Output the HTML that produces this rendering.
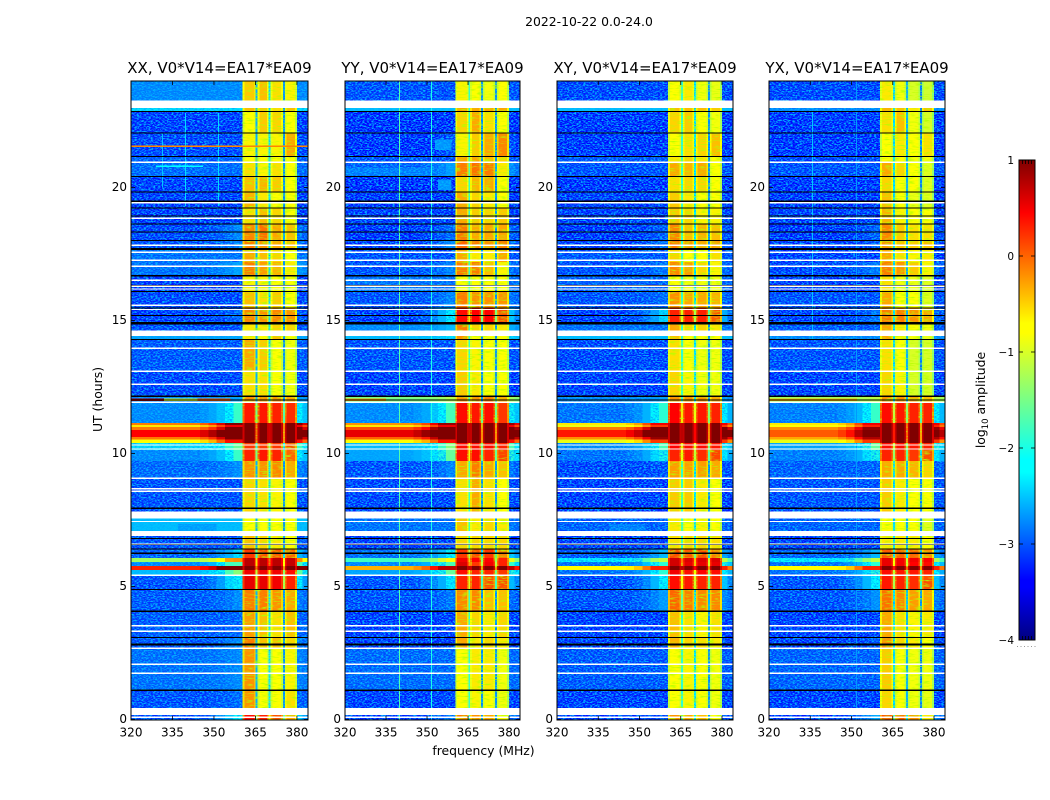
<!DOCTYPE html>
<html>
<head>
<meta charset="utf-8">
<title>Amplitude waterfall 2022-10-22</title>
<style>
  html,body{margin:0;padding:0;background:#fff;width:1050px;height:800px;overflow:hidden}
  svg{display:block}
  text{font-family:"DejaVu Sans","Liberation Sans",sans-serif;fill:#000}
  .tick{font-size:12px}
  .title{font-size:15px}
  .cbt{font-size:10.5px}
</style>
</head>
<body>
<svg id="chart" width="1050" height="800" viewBox="0 0 1050 800" xmlns="http://www.w3.org/2000/svg">
  <defs>
    <filter id="speckle" x="0" y="0" width="100%" height="100%" color-interpolation-filters="sRGB">
      <feTurbulence type="fractalNoise" baseFrequency="0.43 0.83" numOctaves="2" seed="7"/>
      <feColorMatrix type="matrix" values="0 0 0 0 0  0 0 0 0 0.7  0 0 0 0 1  4 0 0 0 -1.7"/>
    </filter>
    <filter id="streak" x="0" y="0" width="100%" height="100%" color-interpolation-filters="sRGB">
      <feTurbulence type="fractalNoise" baseFrequency="0.13 0.77" numOctaves="2" seed="3"/>
      <feColorMatrix type="matrix" values="0 0 0 0 0.7  0 0 0 0 1  0 0 0 0 0  3 0 0 0 -1.5"/>
    </filter>
    <linearGradient id="jet-gradient" x1="0" y1="1" x2="0" y2="0"></linearGradient>
  </defs>
  <text x="589" y="26" text-anchor="middle" font-size="12.400">2022-10-22 0.0-24.0</text>
  <text x="483.500" y="755" text-anchor="middle" font-size="12.400">frequency (MHz)</text>
  <text transform="translate(102,399.500) rotate(-90)" text-anchor="middle" font-size="12.400">UT (hours)</text>
  <text transform="translate(985,400) rotate(-90)" text-anchor="middle" font-size="12.400">log<tspan font-size="8.500" dy="3">10</tspan><tspan dy="-3"> amplitude</tspan></text>
  <g id="panels"></g>
  <g id="colorbar"></g>
</svg>
<script>
// ---- categories / axis ticks ----
const panelTitles = ['XX, V0*V14=EA17*EA09','YY, V0*V14=EA17*EA09','XY, V0*V14=EA17*EA09','YX, V0*V14=EA17*EA09'];
const freqTicks = [320,335,350,365,380];
const hourTicks = [0,5,10,15,20];
const colorbarTicks = [1,0,-1,-2,-3,-4];

// ---- frequency channel boundaries (MHz) ----
const channelEdges = [320,345,348,351,354,357,360.4,361,364.6,365.1,365.8,366.4,369.2,369.8,370.5,371.1,374.3,374.9,375.6,376.2,379.3,380,382,384];
// 0 = background, 1..4 = sub-band, -1..-3 = gap between sub-bands
const channelKind = [0,0,0,0,0,0,1,1,1,-1,2,2,2,-2,3,3,3,-3,4,4,4,0,0];
// background: leakage weight from the band; sub-band: roll-off in log10 amplitude
const channelGain = [0,.05,.12,.25,.45,.7,-.35,0,-.3,0,-.3,0,-.3,0,-.3,0,-.3,0,-.3,0,-.4,.5,.25];

// ---- time segment boundaries (UT hours, descending) ----
const segmentEdges = [24,23.26,22.86,22.04,21.17,20.95,20.41,19.82,19.23,18.63,18,17.65,17.2,16.67,16.07,15.47,14.87,14.42,14.27,13.06,12.16,11.94,11.15,11.07,11,10.88,10.62,10.53,10.39,10.13,9.72,9.08,7.58,6.9,6.41,6.07,5.92,5.77,5.62,5.43,4.87,4.08,3.1,2.69,1.11,.17,0];

// ---- log10 amplitude per segment: [background, band A, band B, band C, band D] ----
const levelsXX = [
[-2.6,-.45,-.4,-.55,-.65],[-2.3,-.4,-.45,-.55,-.4],[-3,-.7,-.45,-.5,-.75],[-2.95,-.65,-.65,-.65,-.3],
[-2.8,-.7,-.75,-.75,-.75],[-2.75,-.55,-.65,-.55,-.8],[-3,-.4,-.35,-.45,-.75],[-3,-.35,-.6,-.7,-.8],
[-3,-.55,-.4,-.5,-.75],[-2.95,-.15,-.05,-.3,-.4],[-2.9,-.1,-.2,-.3,-.4],[-2.7,-.3,-.4,-.5,-.7],
[-2.7,-.1,-.25,-.35,-.6],[-3,-.65,-.65,-.7,-.75],[-2.95,-.4,-.55,-.45,-.7],[-3,-.15,-.2,-.15,-.2],
[-2.9,-.6,-.6,-.5,-.5],[-2.5,-.6,-.8,-.4,-.7],[-2.85,-.3,-.45,-.8,-.85],[-2.95,-.55,-.55,-.8,-.85],
[-2.6,-.2,-.2,-.2,-.3],[-2.6,.35,.35,.3,.25],[-.1,1,1,1,1],[-.6,1,1,1,1],
[-.1,1,1,1,1],[.45,1,1,1,1],[-.1,1,1,1,1],[-.7,1,1,1,1],
[-2.3,.2,.2,.2,.1],[-2.6,.3,.35,.3,0],[-2.75,-.2,-.2,-.15,-.3],[-2.9,-.5,-.55,-.65,-.7],
[-2.4,-.7,-.75,-.7,-.8],[-2.9,-.4,-.5,-.6,-.75],[-2.8,.2,.1,.05,0],[-1.3,.75,.75,.75,.7],
[-2.6,.75,.75,.75,.7],[.3,1,1,1,1],[-2.4,.5,.5,.5,.4],[-2.9,.55,.55,.5,.3],
[-2.85,-.1,-.1,-.2,-.3],[-2.85,-.25,-.4,-.55,-.4],[-2.85,-.1,-.4,-.4,-.5],[-2.7,-.2,-.75,-.8,-.65],
[-2.9,-.2,-.75,-.75,-.55],[-2.9,.4,.3,.1,-.3]];
const levelsYY = [
[-2.9,-.65,-.7,-.85,-.8],[-2.4,-.3,-.3,-.3,-.3],[-3.1,-.5,-.3,-.55,-.8],[-3.1,-.65,-.45,-.3,-.15],
[-2.9,-.3,-.3,-.4,-.5],[-2.8,-.1,-.05,-.1,-.6],[-3.1,-.5,-.35,-.3,-.7],[-3.05,-.3,-.5,-.6,-.7],
[-3,-.3,-.45,-.5,-.45],[-3.05,-.1,-.3,-.3,-.3],[-3,0,-.1,-.2,-.1],[-2.9,-.3,-.6,-.6,-.3],
[-2.9,-.1,-.1,-.4,-.65],[-2.7,-.7,-.8,-.8,-.8],[-2.9,-.1,-.2,-.2,-.2],[-3,.4,.45,.45,.1],
[-2.6,-.1,-.5,-.5,-.6],[-2.4,-.2,-.7,-.7,-.7],[-2.9,-.5,-.65,-.8,-.8],[-3,-.45,-.6,-.8,-.8],
[-1.5,-.2,-.2,-.1,-.3],[-2.6,.4,.35,.4,.2],[-.2,1,1,1,1],[-.6,1,1,1,1],
[.1,1,1,1,1],[.55,1,1,1,1],[0,1,1,1,1],[-.7,1,1,1,1],
[-2.4,.4,.4,.4,.3],[-2.5,.4,.4,.3,.15],[-2.9,-.3,-.1,-.3,-.4],[-2.95,-.55,-.3,-.55,-.7],
[-2.7,-.4,-.6,-.5,-.6],[-3,-.5,-.5,-.5,-.5],[-2.7,.2,.1,.2,-.1],[-1.8,.5,.45,.45,.3],
[-2.6,.6,.2,.5,.3],[-.35,1,1,1,1],[-2.5,.4,.3,.3,.2],[-2.9,.3,.3,.1,.1],
[-2.9,-.15,-.15,-.4,-.4],[-3,-.3,-.5,-.6,-.5],[-3,-.3,-.6,-.5,-.6],[-2.75,-.7,-.6,-.6,-.85],
[-3,-.75,-.65,-.75,-.85],[-3,-.1,-.2,-.3,-.7]];
const levelsXY = [
[-2.95,-.75,-.6,-.85,-.9],[-2.4,-.4,-.4,-.4,-.45],[-3.05,-.5,-.45,-.7,-.85],[-3.05,-.7,-.55,-.5,-.4],
[-2.85,-.6,-.5,-.6,-.7],[-2.9,-.3,-.35,-.3,-.7],[-3.05,-.55,-.5,-.5,-.8],[-3,-.45,-.6,-.75,-.8],
[-3,-.45,-.5,-.65,-.65],[-3.05,-.15,-.4,-.35,-.4],[-3,-.1,-.2,-.3,-.25],[-2.85,-.5,-.7,-.7,-.55],
[-2.9,-.15,-.25,-.5,-.65],[-2.8,-.75,-.85,-.85,-.85],[-2.9,-.2,-.3,-.3,-.35],[-3,.3,.3,.3,.05],
[-2.7,-.3,-.5,-.5,-.6],[-2.4,-.4,-.7,-.7,-.75],[-2.95,-.55,-.7,-.85,-.85],[-3,-.5,-.65,-.85,-.85],
[-2.6,-.2,-.2,-.2,-.3],[-2.7,.45,.35,.35,.3],[-.6,1,1,1,1],[-.9,1,1,1,1],
[-.1,1,1,1,1],[.35,1,1,1,1],[-.2,1,1,1,1],[-.9,1,1,1,1],
[-2.6,.45,.4,.4,.35],[-2.7,.3,.35,.25,.15],[-2.95,-.25,-.25,-.25,-.3],[-3,-.45,-.45,-.6,-.7],
[-2.8,-.6,-.75,-.65,-.8],[-3,-.55,-.5,-.5,-.55],[-2.85,.1,.05,.1,-.1],[-2.2,.65,.6,.6,.6],
[-2.7,.65,.55,.55,.55],[-.8,1,1,1,1],[-2.7,.5,.4,.45,.4],[-2.95,.4,.35,.3,.3],
[-2.9,0,-.1,-.15,-.15],[-3,-.4,-.55,-.65,-.55],[-3,-.35,-.5,-.55,-.6],[-2.85,-.7,-.65,-.7,-.85],
[-3,-.75,-.65,-.75,-.85],[-3,-.2,-.3,-.4,-.75]];
const levelsYX = [
[-2.95,-.6,-.85,-1,-1.05],[-2.6,-.35,-.4,-.6,-.4],[-3.05,-.55,-.4,-.85,-1],[-3.05,-.8,-.6,-.7,-.55],
[-2.95,-.7,-.75,-.85,-.85],[-2.9,-.3,-.5,-.75,-.95],[-3.05,-.5,-.7,-.8,-.95],[-3.05,-.4,-.75,-.9,-.95],
[-3,-.35,-.65,-.7,-.75],[-3.05,-.15,-.45,-.55,-.55],[-3,-.2,-.4,-.45,-.4],[-3,-.3,-.55,-.65,-.6],
[-2.95,-.1,-.2,-.45,-.65],[-3,-.55,-.85,-.9,-.95],[-2.9,-.3,-.7,-.8,-.95],[-3,-.1,-.1,-.2,-.3],
[-2.85,-.3,-.6,-.75,-.85],[-2.6,-.3,-.65,-.85,-.9],[-2.9,-.55,-.75,-1,-1],[-3,-.5,-.65,-1,-1],
[-1.3,-.2,-.2,-.3,-.4],[-2.65,.4,.35,.3,.3],[-.6,1,1,1,1],[-.8,1,1,1,1],
[-.2,1,1,1,1],[.05,1,1,1,1],[-.3,1,1,1,1],[-.9,1,1,1,1],
[-2.5,.4,.4,.35,.3],[-2.65,.3,.3,.2,.1],[-2.8,-.3,-.3,-.35,-.5],[-2.9,-.45,-.6,-.7,-.8],
[-2.8,-.7,-.8,-.8,-.95],[-3,-.6,-.6,-.6,-.7],[-2.8,.05,0,0,-.2],[-2.2,.55,.5,.5,.45],
[-2.7,.55,.5,.45,.4],[-.8,1,1,1,1],[-2.7,.4,.35,.35,.3],[-2.9,.35,.3,.25,.1],
[-2.9,-.05,-.15,-.25,-.3],[-3,-.3,-.55,-.65,-.6],[-3,-.2,-.5,-.6,-.7],[-2.8,-.45,-.8,-.85,-.85],
[-3,-.5,-.8,-.85,-.9],[-3,.1,0,-.2,-.6]];
const panelLevels = [levelsXX,levelsYY,levelsXY,levelsYX];
// quiescent level of the three inter-band gaps, per panel
const gapLevels = [[-2.6,-2.0,-2.8],[-1.9,-2.8,-2.8],[-1.9,-2.2,-2.8],[-2.3,-2.6,-2.9]];

// ---- flagged (blank, NaN) and zeroed (black) time ranges, UT hours ----
const blankHours = [[23.26,22.99],[14.62,14.41],[7.81,7.56],[7.09,6.9],[.43,.17]];
const blankThinHours = [20.95,19.42,18.84,17.83,17.56,17.26,17.04,16.51,16.29,16.18,15.57,15.41,13.95,13.09,12.6,11.92,10.32,10.17,9.07,8.67,8.58,7.44,6.6,5.42,3.53,3.32,2.68,2.08,1.74,.08];
const zeroHours = [[17.73,17.65],[14.94,14.85],[2.86,2.78]];
const zeroThinHours = [22.86,22.04,21.17,20.41,19.82,19.48,19.23,18.92,18.63,18.32,18,16.68,16.31,16.08,15.46,15.19,14.29,12.15,12.01,7.94,6.81,6.58,6.41,6.25,4.89,4.07,3.09,1.1];

// ---- narrow-band RFI: [panel, MHz, top hour, bottom hour, level] ----
const rfiLines = [[1,339.6,24,0,-1.7],[1,351.5,24,0,-2],[0,339.6,22.8,19.3,-2.4],[0,351.5,22.8,19.3,-2.4],[0,331.2,22,20,-2.5],[3,335.5,22.9,14.3,-2.5],[3,351.5,24,0,-2.7]];
// ---- localized features: [panel, MHz from, MHz to, top hour, bottom hour, level] ----
const featurePatches = [
 [0,320,384,21.58,21.51,-.15],[0,320,332,12.07,11.97,.9],[0,332,344,12.07,11.97,-1],[0,344,356,12.07,11.97,0],
 [0,337,351,7.35,7.09,-2.7],[0,329,346,20.83,20.77,-2.2],[1,320,352,20.75,20.45,-2.9],[1,354,359,20.3,19.9,-2.75],
 [1,353,359,21.8,21.4,-2.75],[3,320,352,12.07,11.97,-.4],[1,320,335,12.07,11.97,-.3],[2,339,352,7.35,7.09,-2.9]];

const SVGNS = 'http://www.w3.org/2000/svg';
const panelLeft = [131,345,557,769];
const panelRight = [308,520,733,945];
const plotTop = 81, plotBottom = 720;
const vMin = -4, vMax = 1;
const jetStops = [[0,0,0,.5],[.11,0,0,1],[.125,0,0,1],[.35,0,1,1],[.375,0,1,1],[.64,1,1,0],[.66,1,1,0],[.89,1,0,0],[1,.5,0,0]];

function jet(t){
  t = Math.max(0,Math.min(1,t));
  for(let i=1;i<jetStops.length;i++){
    const a=jetStops[i-1], b=jetStops[i];
    if(t<=b[0]){
      const f=(t-a[0])/(b[0]-a[0]||1);
      const c=[1,2,3].map(k=>Math.round(255*(a[k]+(b[k]-a[k])*f)));
      return 'rgb('+c.join(',')+')';
    }
  }
  return 'rgb(128,0,0)';
}
function colorOf(v){ return jet((v-vMin)/(vMax-vMin)); }
function yScale(h){ return 719.5 - h*(719.5-81)/24; }
function xScale(p,f){ return panelLeft[p] + (f-320)*(panelRight[p]-panelLeft[p])/64; }
function mk(tag,attrs,parent){
  const e=document.createElementNS(SVGNS,tag);
  for(const k in attrs) e.setAttribute(k,attrs[k]);
  parent.appendChild(e);
  return e;
}
// the speckle texture brightens the quiet background, so its base sits lower
function quietBase(v){ return v-.3*Math.max(0,Math.min(1,(-2.2-v)/.5)); }
function cellValue(p,row,col){
  const lv=panelLevels[p][row], kind=channelKind[col], gain=channelGain[col];
  const maxBand=Math.max(lv[1],lv[2],lv[3],lv[4]);
  if(kind>0) return Math.min(1,lv[kind]+gain);
  if(kind<0) return Math.min(1,gapLevels[p][-kind-1]+Math.max(0,maxBand+.1)*2.4);
  return Math.min(1,quietBase(lv[0])+Math.min(1.1,gain*Math.max(0,maxBand+.3)*2.2));
}

const panelsRoot=document.getElementById('panels');
const defs=document.querySelector('defs');
panelTitles.forEach(function(title,p){
  const x0=panelLeft[p], x1=panelRight[p], w=x1-x0;
  const clip=mk('clipPath',{id:'clip'+p},defs);
  mk('rect',{x:x0,y:plotTop,width:w,height:plotBottom-plotTop},clip);
  const g=mk('g',{},panelsRoot);
  
  
  const data=mk('g',{'clip-path':'url(#clip'+p+')','shape-rendering':'crispEdges'},g);
  
  
  const low=mk('g',{},data);
  const speck=mk('rect',{x:x0,y:plotTop,width:w,height:plotBottom-plotTop,filter:'url(#speckle)'},data);
  
  
  const lines=mk('g',{},data);
  const mid=mk('g',{},data);
  const strk=mk('rect',{x:xScale(p,360.4),y:plotTop,width:xScale(p,380)-xScale(p,360.4),height:plotBottom-plotTop,filter:'url(#streak)'},data);
  
  
  const high=mk('g',{},data);
  for(let r=0;r<panelLevels[p].length;r++){
    const yA=yScale(segmentEdges[r]), yB=yScale(segmentEdges[r+1]);
    for(let c=0;c<channelKind.length;c++){
      const v=cellValue(p,r,c);
      const xA=xScale(p,channelEdges[c]), xB=xScale(p,channelEdges[c+1]);
      const cell=mk('rect',{x:xA.toFixed(2),y:yA.toFixed(2),width:(xB-xA).toFixed(2),height:(yB-yA).toFixed(2),fill:colorOf(v)},v<-1.9?low:(v<.2?mid:high));
      
      
    }
  }
  rfiLines.filter(d=>d[0]===p).forEach(function(d){
    const line=mk('rect',{x:Math.round(xScale(p,d[1])),y:yScale(d[2]).toFixed(2),width:1,height:(yScale(d[3])-yScale(d[2])).toFixed(2),fill:colorOf(d[4])},lines);
    
    
  });
  featurePatches.filter(d=>d[0]===p).forEach(function(d){
    const patch=mk('rect',{x:xScale(p,d[1]).toFixed(2),y:yScale(d[3]).toFixed(2),width:(xScale(p,d[2])-xScale(p,d[1])).toFixed(2),height:(yScale(d[4])-yScale(d[3])).toFixed(2),fill:colorOf(d[5])},d[5]<-2.3?low:high);
    
    
  });
  function band(top,bottom,fill,name){
    const b=mk('rect',{x:x0,y:yScale(top).toFixed(2),width:w,height:Math.max(1,yScale(bottom)-yScale(top)).toFixed(2),fill:fill},data);
    
    
  }
  zeroHours.forEach(d=>band(d[0],d[1],'#000','zeroed-interval'));
  zeroThinHours.forEach(h=>band(h+.02,h-.02,'#000','zeroed-interval'));
  blankHours.forEach(d=>band(d[0],d[1],'#fff','flagged-interval'));
  blankThinHours.forEach(h=>band(h+.025,h-.025,'#fff','flagged-interval'));

  const frame=mk('rect',{x:x0,y:plotTop,width:w,height:plotBottom-plotTop,fill:'none',stroke:'#000','stroke-width':1},g);
  
  
  freqTicks.forEach(function(f){
    const x=xScale(p,f);
    const t1=mk('line',{x1:x,x2:x,y1:plotBottom,y2:plotBottom-4,stroke:'#000','stroke-width':.8},g);
    
    
    const t2=mk('line',{x1:x,x2:x,y1:plotTop,y2:plotTop+4,stroke:'#000','stroke-width':.8},g);
    
    
    const lab=mk('text',{x:x,y:736.500,'text-anchor':'middle',class:'tick'},g);
    lab.textContent=f;
    
    
  });
  hourTicks.forEach(function(h){
    const y=yScale(h);
    const t1=mk('line',{x1:x0,x2:x0+4,y1:y,y2:y,stroke:'#000','stroke-width':.8},g);
    
    
    const t2=mk('line',{x1:x1,x2:x1-4,y1:y,y2:y,stroke:'#000','stroke-width':.8},g);
    
    
    const lab=mk('text',{x:x0-4,y:y+3.500,'text-anchor':'end',class:'tick'},g);
    lab.textContent=h;
    
    
  });
  const tt=mk('text',{x:(x0+x1)/2,y:73,'text-anchor':'middle',class:'title'},g);
  tt.textContent=title;
  
  
});

// ---- colorbar ----
const grad=document.getElementById('jet-gradient');
jetStops.forEach(function(s){
  mk('stop',{offset:s[0],'stop-color':'rgb('+[s[1],s[2],s[3]].map(v=>Math.round(v*255)).join(',')+')'},grad);
});
const cb=document.getElementById('colorbar');
const cbX0=1019, cbX1=1035, cbTop=160, cbBottom=640;
function cbY(v){ return cbBottom-(v-vMin)*(cbBottom-cbTop)/(vMax-vMin); }
const cbBar=mk('rect',{x:cbX0,y:cbTop,width:cbX1-cbX0,height:cbBottom-cbTop,fill:'url(#jet-gradient)',stroke:'#000','stroke-width':1},cb);


colorbarTicks.forEach(function(v){
  const y=cbY(v);
  const a=mk('line',{x1:cbX0,x2:cbX0+4,y1:y,y2:y,stroke:'#000','stroke-width':.8},cb);
  
  
  const b=mk('line',{x1:cbX1,x2:cbX1-4,y1:y,y2:y,stroke:'#000','stroke-width':.8},cb);
  
  
  const lab=mk('text',{x:1014,y:y+4,'text-anchor':'end',class:'cbt'},cb);
  lab.textContent=v<0?'\u2212'+(-v):String(v);
  
  
});
const cbMinorTicks=[1022.5,1025.5,1028.5,1031.5];
cbMinorTicks.forEach(function(x){
  [[cbTop,cbTop+4],[cbBottom,cbBottom-4]].forEach(function(pair){
    const m=mk('line',{x1:x,x2:x,y1:pair[0],y2:pair[1],stroke:'#000','stroke-width':.8},cb);
    
    
  });
});
const dots=mk('line',{x1:1017,x2:1036,y1:646.5,y2:646.5,stroke:'#999','stroke-width':1,'stroke-dasharray':'1 2.500'},cb);


</script>
</body>
</html>
